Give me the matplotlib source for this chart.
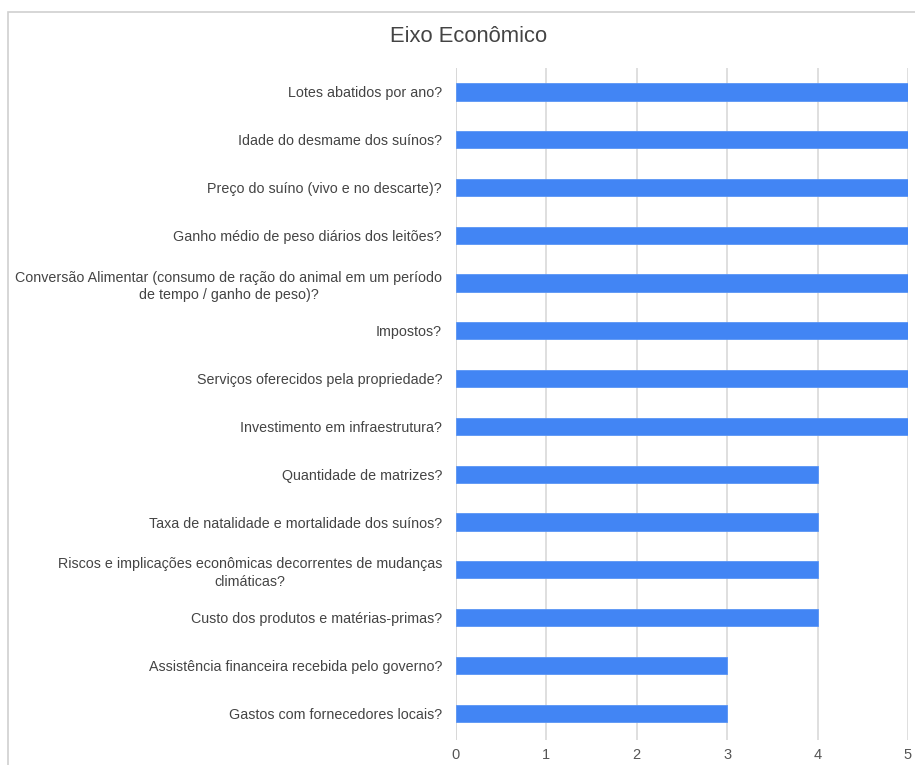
import matplotlib.pyplot as plt
from matplotlib.patches import Rectangle

# Dados do gráfico
perguntas = [
    'Lotes abatidos por ano?',
    'Idade do desmame dos suínos?',
    'Preço do suíno (vivo e no descarte)?',
    'Ganho médio de peso diários dos leitões?',
    'Conversão Alimentar (consumo de ração do animal em um período\nde tempo / ganho de peso)?',
    'Impostos?',
    'Serviços oferecidos pela propriedade?',
    'Investimento em infraestrutura?',
    'Quantidade de matrizes?',
    'Taxa de natalidade e mortalidade dos suínos?',
    'Riscos e implicações econômicas decorrentes de mudanças\nclimáticas?',
    'Custo dos produtos e matérias-primas?',
    'Assistência financeira recebida pelo governo?',
    'Gastos com fornecedores locais?',
]
valores = [5, 5, 5, 5, 5, 5, 5, 5, 4, 4, 4, 4, 3, 3]
ticks_x = [0, 1, 2, 3, 4, 5]

plt.rcParams['font.family'] = ['Liberation Sans', 'DejaVu Sans']

fig = plt.figure(figsize=(9.15, 7.65), dpi=100)
# moldura do gráfico
fig.patches.append(Rectangle((8 / 915, -0.1), 1.2, 1 - 12 / 765 + 0.1,
                             transform=fig.transFigure, fill=False,
                             edgecolor='#d0d0d0', linewidth=1.2))

ax = fig.add_axes([456 / 915, 25 / 765, 452 / 915, 672 / 765])
pos = list(range(len(perguntas)))
ax.barh(pos, valores, height=0.36, color='#4285f4', edgecolor='#5a95f5',
        linewidth=0.6, zorder=3)
ax.set_ylim(len(perguntas) - 0.44, -0.5)
ax.set_xlim(0, 5)
ax.set_yticks(pos)
ax.set_yticklabels(perguntas, fontsize=10.3, color='#444444',
                   multialignment='center', linespacing=1.35)
ax.set_xticks(ticks_x)
ax.set_xticklabels([str(t) for t in ticks_x], fontsize=10.5, color='#555555')
ax.tick_params(length=0)
ax.tick_params(axis='y', pad=10)
ax.tick_params(axis='x', pad=6)
for s in ax.spines.values():
    s.set_visible(False)
ax.grid(axis='x', color='#d9d9d9', linewidth=1.2, zorder=0)
ax.axvline(0, color='#cccccc', linewidth=1.2, zorder=1)

fig.text(469 / 915, 1 - 37 / 765, 'Eixo Econômico', ha='center', va='center',
         fontsize=15.8, color='#444444')

fig.savefig('out.png', dpi=100)
